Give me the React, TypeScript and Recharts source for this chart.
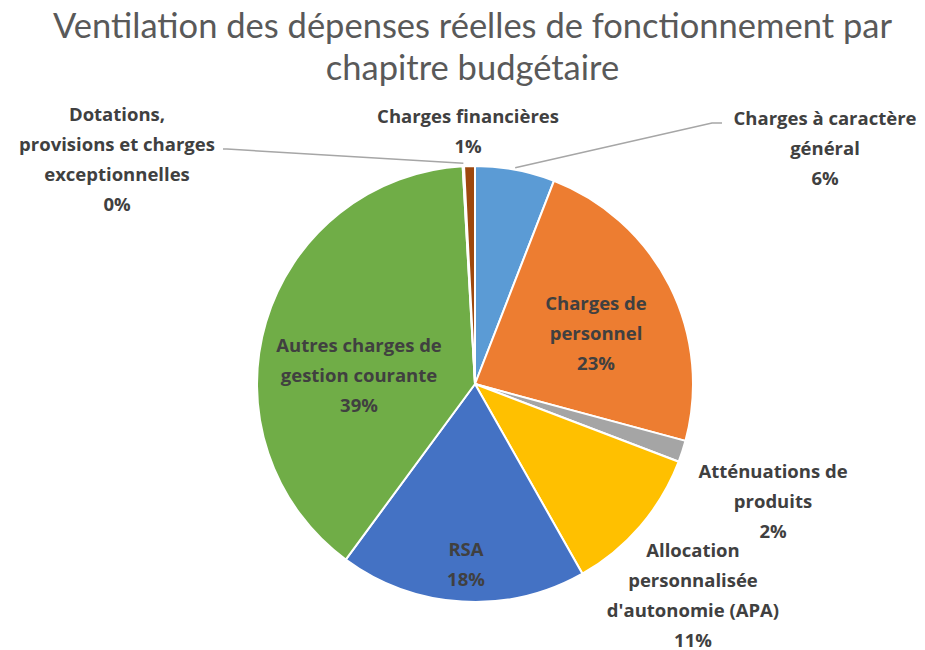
import React from 'react';
import { PieChart, Pie, Cell } from 'recharts';

// Chapitres budgétaires (sens horaire à partir de midi)
const categories = [
  'Charges à caractère général',
  'Charges de personnel',
  'Atténuations de produits',
  'Allocation personnalisée d\'autonomie (APA)',
  'RSA',
  'Autres charges de gestion courante',
  'Dotations, provisions et charges exceptionnelles',
  'Charges financières',
];

// part estimée de chaque chapitre, en %
const shares = [5.9, 23.3, 1.6, 11.0, 18.3, 39.0, 0.1, 0.8];

// découpage des étiquettes en lignes
const labelLines = [
  ['Charges à caractère', 'général'],
  ['Charges de', 'personnel'],
  ['Atténuations de', 'produits'],
  ['Allocation', 'personnalisée', "d'autonomie (APA)"],
  ['RSA'],
  ['Autres charges de', 'gestion courante'],
  ['Dotations,', 'provisions et charges', 'exceptionnelles'],
  ['Charges financières'],
];

const colors = ['#5B9BD5', '#ED7D31', '#A5A5A5', '#FFC000', '#4472C4', '#70AD47', '#264478', '#9E480E'];

const data = categories.map((name, i) => ({ name, value: shares[i] }));

// position du centre de chaque étiquette, relative au centre du camembert
const labelPos: Record<number, { dx: number; dy: number; leader?: 'right' | 'left' }> = {
  0: { dx: 350, dy: -237, leader: 'right' },
  1: { dx: 121, dy: -52 },
  2: { dx: 298, dy: 116 },
  3: { dx: 218, dy: 210 },
  4: { dx: -9, dy: 179 },
  5: { dx: -116, dy: -10 },
  6: { dx: -358, dy: -226, leader: 'left' },
  7: { dx: -7, dy: -254 },
};

const LINE_H = 30;
const RAD = Math.PI / 180;
const FONT = "'Open Sans', Lato, sans-serif";

const renderLabel = (props: any) => {
  const { cx, cy, midAngle, outerRadius, percent, index } = props;
  const pos = labelPos[index];
  const lines = [...labelLines[index], `${Math.round(percent * 100)}%`];
  const x = cx + pos.dx;
  const yTop = cy + pos.dy - ((lines.length - 1) * LINE_H) / 2;
  let leader = null;
  if (pos.leader) {
    const ex = cx + outerRadius * Math.cos(-midAngle * RAD);
    const ey = cy + outerRadius * Math.sin(-midAngle * RAD);
    if (pos.leader === 'right') {
      const lx = x - 103;
      const ly = yTop + 6;
      leader = <polyline points={`${ex},${ey - 2} ${lx - 10},${ly} ${lx},${ly}`} fill="none" stroke="#A6A6A6" strokeWidth={1.5} />;
    } else {
      const lx = x + 106;
      const ly = yTop + LINE_H + 6;
      leader = <polyline points={`${ex},${ey - 3} ${lx + 4},${ly} ${lx},${ly}`} fill="none" stroke="#A6A6A6" strokeWidth={1.5} />;
    }
  }
  return (
    <g key={`lbl-${index}`}>
      {leader}
      <text
        x={x}
        y={yTop}
        textAnchor="middle"
        dominantBaseline="central"
        fill="#404040"
        fontFamily={FONT}
        fontWeight={700}
        fontSize={18.5}
      >
        {lines.map((l, i) => (
          <tspan key={i} x={x} dy={i === 0 ? 0 : LINE_H}>
            {l}
          </tspan>
        ))}
      </text>
    </g>
  );
};

export default function App() {
  return (
    <div style={{ position: 'absolute', left: 0, top: 0, width: 925, height: 650, background: '#fff' }}>
      <div
        style={{
          position: 'absolute',
          left: 10,
          top: 4,
          width: 925,
          textAlign: 'center',
          fontFamily: "Lato, 'Open Sans', sans-serif",
          fontSize: 34.5,
          lineHeight: '42px',
          color: '#595959',
        }}
      >
        Ventilation des dépenses réelles de fonctionnement par
        <br />
        chapitre budgétaire
      </div>
      <PieChart
        width={925}
        height={650}
        margin={{ top: 0, right: 0, bottom: 0, left: 0 }}
        style={{ position: 'absolute', left: 0, top: 0 }}
      >
        <Pie
          data={data}
          dataKey="value"
          nameKey="name"
          cx={475}
          cy={384}
          outerRadius={218}
          startAngle={90}
          endAngle={-270}
          stroke="#fff"
          strokeWidth={2}
          label={renderLabel}
          labelLine={false}
          isAnimationActive={false}
        >
          {data.map((d, i) => (
            <Cell key={d.name} fill={colors[i]} />
          ))}
        </Pie>
      </PieChart>
    </div>
  );
}
